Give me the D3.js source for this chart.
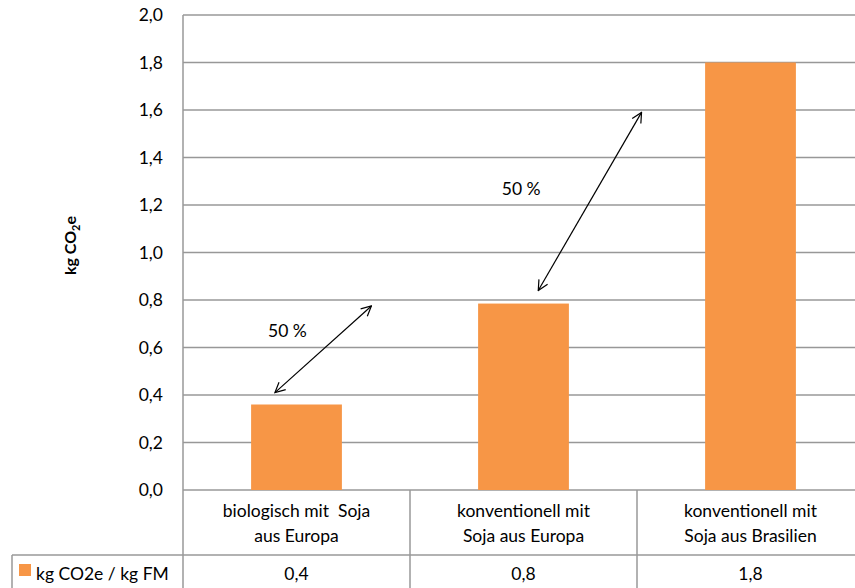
<!DOCTYPE html>
<html>
<head>
<meta charset="utf-8">
<script src="https://cdn.jsdelivr.net/npm/d3@7"></script>
<style>
	body { margin: 0; background: #fff; }
	svg { display: block; font-family: Lato, "Open Sans", sans-serif; }
</style>
</head>
<body>
<div id="plot"></div>
<script>
// chart data
var categories = [["biologisch mit  Soja", "aus Europa"], ["konventionell mit", "Soja aus Europa"], ["konventionell mit", "Soja aus Brasilien"]];
var values = [0.36, 0.785, 1.8];
var tableValues = ["0,4", "0,8", "1,8"];
var seriesName = "kg CO2e / kg FM";
var yTicks = [0, 0.2, 0.4, 0.6, 0.8, 1.0, 1.2, 1.4, 1.6, 1.8, 2.0];
// arrows: x in category units (0..3), y in kg
var arrows = [
	{x1: 0.405, y1: 0.41, x2: 0.83, y2: 0.775, label: "50 %", lx: 0.46, ly: 0.67},
	{x1: 1.565, y1: 0.84, x2: 2.02, y2: 1.59, label: "50 %", lx: 1.49, ly: 1.27}
];

function draw(){
	var W = 855, H = 588;
	var m = {left: 183, right: 864, top: 15, bottom: 490};
	var catRowBottom = 555, tableBottom = 588, legendLeft = 12;
	var grid = "#989898";
	var fs = "17.5px";

	var svg = d3.select("#plot").append("svg")
		.attr("width", W).attr("height", H);

	var y = d3.scaleLinear().domain([0, 2]).range([m.bottom, m.top]);
	var x = d3.scaleBand().domain(d3.range(categories.length)).range([m.left, m.right]);
	var xi = d3.scaleLinear().domain([0, categories.length]).range([m.left, m.right]);

	// gridlines
	svg.append("g").selectAll("line")
		.data(yTicks)
		.enter().append("line")
			.attr("x1", m.left).attr("x2", m.right)
			.attr("y1", d => y(d)).attr("y2", d => y(d))
			.attr("stroke", grid).attr("stroke-width", 1.5);

	// tick labels
	svg.append("g").selectAll("text")
		.data(yTicks)
		.enter().append("text")
			.attr("x", 163).attr("y", d => y(d))
			.attr("dy", "0.35em")
			.attr("text-anchor", "end")
			.style("font-size", fs)
			.text(d => d3.format(".1f")(d).replace(".", ","));

	// axis title
	var t = svg.append("text")
		.attr("transform", "translate(76," + (y(1.0) - 7) + ") rotate(-90)")
		.attr("text-anchor", "middle")
		.style("font-size", "16px").style("font-weight", "bold");
	t.append("tspan").text("kg CO");
	t.append("tspan").text("2").style("font-size", "11px").attr("dy", 4);
	t.append("tspan").text("e").attr("dy", -4);

	// bars
	var bw = x.bandwidth() * 0.4;
	svg.append("g").selectAll("rect")
		.data(values)
		.enter().append("rect")
			.attr("x", (d, i) => x(i) + (x.bandwidth() - bw) / 2)
			.attr("width", bw)
			.attr("y", d => y(d))
			.attr("height", d => y(0) - y(d))
			.attr("fill", "#F79646");

	// table lines
	var lines = svg.append("g").attr("stroke", grid).attr("stroke-width", 1.5);
	lines.append("line").attr("x1", m.left).attr("x2", m.left).attr("y1", m.top).attr("y2", tableBottom);
	d3.range(1, categories.length).forEach(i => {
		lines.append("line").attr("x1", x(i)).attr("x2", x(i)).attr("y1", m.bottom).attr("y2", tableBottom);
	});
	lines.append("line").attr("x1", legendLeft).attr("x2", m.right).attr("y1", catRowBottom).attr("y2", catRowBottom);
	lines.append("line").attr("x1", legendLeft).attr("x2", legendLeft).attr("y1", catRowBottom).attr("y2", tableBottom);

	// category labels and values
	categories.forEach((c, i) => {
		c.forEach((s, j) => {
			svg.append("text")
				.attr("x", x(i) + x.bandwidth() / 2)
				.attr("y", 511 + j * 25)
				.attr("dy", "0.35em")
				.attr("text-anchor", "middle")
				.style("font-size", fs)
				.style("white-space", "pre")
				.text(s);
		});
		svg.append("text")
			.attr("x", x(i) + x.bandwidth() / 2)
			.attr("y", 574)
			.attr("dy", "0.35em")
			.attr("text-anchor", "middle")
			.style("font-size", fs)
			.text(tableValues[i]);
	});

	// legend key
	svg.append("rect").attr("x", 19).attr("y", 564).attr("width", 12).attr("height", 12).attr("fill", "#F79646");
	svg.append("text").attr("x", 36).attr("y", 574).attr("dy", "0.35em")
		.style("font-size", fs).text(seriesName);

	// arrows
	svg.append("defs").append("marker").attr("id", "head").attr("viewBox", "0 0 12 12")
		.attr("refX", 11).attr("refY", 6).attr("markerWidth", 12).attr("markerHeight", 12)
		.attr("markerUnits", "userSpaceOnUse").attr("orient", "auto-start-reverse")
		.append("path").attr("d", "M1,1 L11,6 L1,11").attr("fill", "none").attr("stroke", "#000").attr("stroke-width", 1.2);

	arrows.forEach(a => {
		svg.append("line")
			.attr("x1", xi(a.x1)).attr("y1", y(a.y1))
			.attr("x2", xi(a.x2)).attr("y2", y(a.y2))
			.attr("stroke", "#000").attr("stroke-width", 1.2)
			.attr("marker-start", "url(#head)").attr("marker-end", "url(#head)");
		svg.append("text")
			.attr("x", xi(a.lx)).attr("y", y(a.ly))
			.attr("dy", "0.35em")
			.attr("text-anchor", "middle")
			.style("font-size", fs)
			.text(a.label);
	});
}

draw()
</script>
</body>
</html>
